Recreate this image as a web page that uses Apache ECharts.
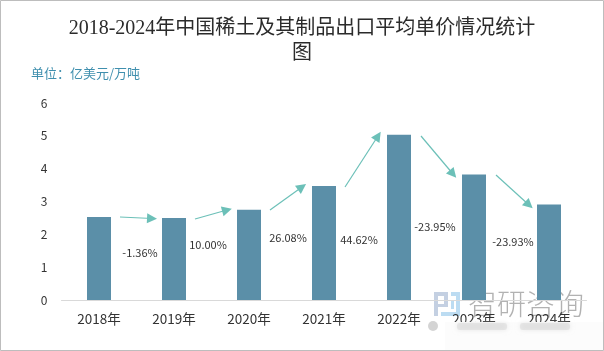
<!DOCTYPE html>
<html>
<head>
<meta charset="utf-8">
<style>
  html, body { margin: 0; padding: 0; background: #fff; }
  #chart { width: 604px; height: 351px; }
</style>
<script src="https://cdn.jsdelivr.net/npm/echarts@6/dist/echarts.min.js"></script>
</head>
<body>
<div id="chart"></div>
<script>
const years = ['2018年', '2019年', '2020年', '2021年', '2022年', '2023年', '2024年']
const prices = [2.53, 2.5, 2.75, 3.47, 5.03, 3.82, 2.91]
const growth = ['-1.36%', '10.00%', '26.08%', '44.62%', '-23.95%', '-23.93%']

// hand placed annotations, same pixel space as the picture
const growthAnchors = [[140, 253], [208, 245], [288, 238], [359, 240], [435, 227], [513, 242]]
const arrowEnds = [
  [[120, 217], [152, 218.5]],
  [[195, 219], [227, 210]],
  [[270, 210], [302, 187]],
  [[345, 187], [378, 136]],
  [[421, 136], [453, 174]],
  [[496, 175], [529, 205]]
]

const sans = '"Noto Sans CJK SC", "Noto Sans", sans-serif'
const chart = echarts.init(document.getElementById('chart'), null, { renderer: 'canvas' })

const growthTexts = growth.map((text, i) => ({
  type: 'text',
  x: growthAnchors[i][0],
  y: growthAnchors[i][1],
  style: { text, fontSize: 11, fontFamily: sans, fill: '#333', align: 'center', verticalAlign: 'middle' }
}))

// watermark logo blocks and the smudged strip below it
const logoRect = (x, y, width, height, fill) => ({ type: 'rect', shape: { x, y, width, height }, style: { fill } })
const smudge = (x, y, width, height) => ({
  type: 'rect', z: 11, shape: { x, y, width, height, r: 3 }, style: { fill: '#d8d8d8', opacity: 0.55, shadowBlur: 5, shadowColor: '#d8d8d8' }
})

chart.setOption({
  animation: false,
  title: {
    text: '2018-2024年中国稀土及其制品出口平均单价情况统计\n图',
    left: 'center',
    top: 11,
    textStyle: {
      fontFamily: '"Liberation Serif", "Noto Sans CJK SC", serif',
      fontSize: 20,
      fontWeight: 'normal',
      lineHeight: 25,
      color: '#2b2b2b'
    }
  },
  grid: { left: 61.5, right: 17.5, top: 103, bottom: 51 },
  xAxis: {
    type: 'category',
    data: years,
    axisTick: { show: false },
    axisLine: { lineStyle: { color: '#d9d9d9', width: 1 } },
    axisLabel: { color: '#333', fontSize: 13.5, fontFamily: sans, margin: 12 }
  },
  yAxis: {
    type: 'value',
    min: 0,
    max: 6,
    interval: 1,
    splitLine: { show: false },
    axisLine: { show: false },
    axisTick: { show: false },
    axisLabel: { color: '#333', fontSize: 12, fontFamily: sans, margin: 14 }
  },
  series: [{
    type: 'bar',
    data: prices,
    barWidth: 24,
    itemStyle: { color: '#5b8fa8' },
    markLine: {
      silent: true,
      symbol: ['none', 'triangle'],
      symbolSize: 10,
      label: { show: false },
      lineStyle: { color: '#6cc0b8', width: 1.2, type: 'solid' },
      data: arrowEnds.map(([a, b]) => [{ x: a[0], y: a[1] }, { x: b[0], y: b[1] }])
    }
  }],
  graphic: [
    { type: 'text', x: 31, y: 73, style: { text: '单位：亿美元/万吨', fontSize: 13, fontFamily: sans, fill: '#3f8fae', verticalAlign: 'middle' } },
    ...growthTexts,
    logoRect(434, 292, 14, 4, '#c4d0e2'),
    logoRect(434, 296, 4, 20, '#c4d0e2'),
    logoRect(444, 296, 4, 8, '#c4d0e2'),
    logoRect(438, 304, 10, 3, '#c4d0e2'),
    logoRect(451, 292, 9, 4, '#bcdcf2'),
    logoRect(456, 296, 4, 17, '#bcdcf2'),
    logoRect(441, 312, 19, 4, '#bcdcf2'),
    logoRect(451, 300, 3, 9, '#bcdcf2'),
    { type: 'text', x: 468, y: 304, style: { text: '智研咨询', fontSize: 29, fontFamily: sans, fontWeight: 300, fill: '#b2b2b2', verticalAlign: 'middle' } },
    // white patch hides the lower part of the last labels, as in the picture
    { type: 'rect', z: 10, shape: { x: 445, y: 322, width: 158, height: 28 }, style: { fill: '#fcfcfc' } },
    { type: 'circle', z: 11, shape: { cx: 433, cy: 326, r: 5 }, style: { fill: '#c9c9c9', opacity: 0.8 } },
    smudge(457, 323, 50, 7),
    smudge(520, 323, 50, 7),
    // page frame
    { type: 'rect', z: 12, shape: { x: 0.5, y: 0.5, width: 603, height: 350 }, style: { fill: 'none', stroke: '#bdbdbd', lineWidth: 1 } }
  ]
})
</script>
</body>
</html>
